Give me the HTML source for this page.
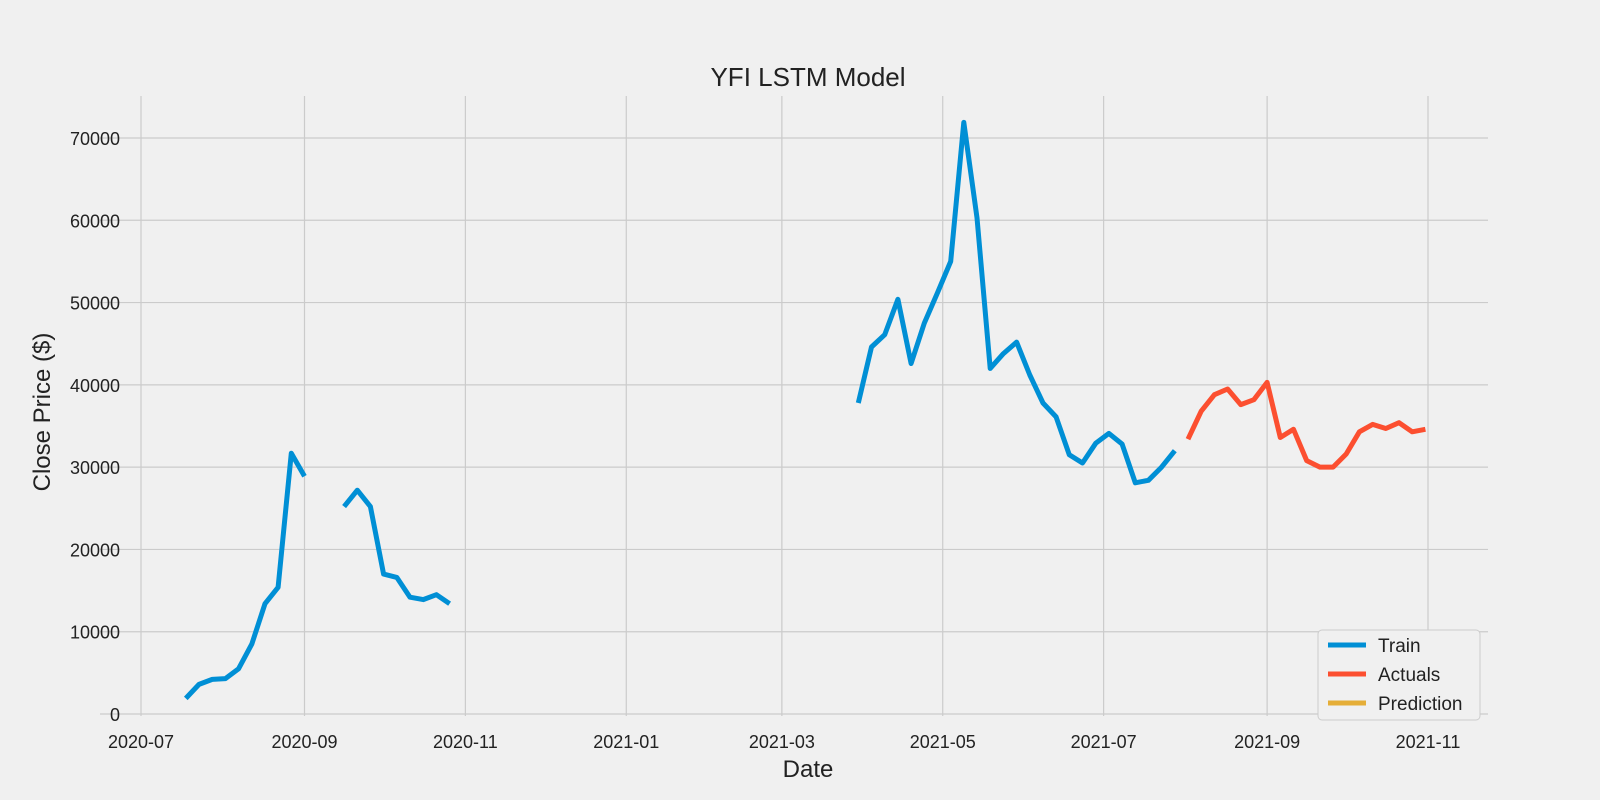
<!DOCTYPE html>
<html><head><meta charset="utf-8"><style>
html,body{margin:0;padding:0;background:#f0f0f0;}
svg{display:block;font-family:"Liberation Sans","DejaVu Sans",sans-serif;}
</style></head><body>
<svg id="chart" width="1600" height="800" viewBox="0 0 1600 800">
<rect width="1600" height="800" fill="#f0f0f0"/>
<g id="grid"></g>
<g id="series"></g>
<g id="ticks"></g>
<text x="808" y="86" font-size="26" text-anchor="middle" fill="#222">YFI LSTM Model</text>
<text x="808" y="777" font-size="24" text-anchor="middle" fill="#222">Date</text>
<text transform="translate(50,412) rotate(-90)" font-size="24" text-anchor="middle" fill="#222">Close Price ($)</text>
<g>
<rect x="1318" y="630" width="162" height="90" rx="4" fill="#f0f0f0" stroke="#cccccc"/>
<line x1="1328" y1="645" x2="1366" y2="645" stroke="#008fd5" stroke-width="5"/>
<text x="1378" y="652" font-size="19" fill="#222">Train</text>
<line x1="1328" y1="674" x2="1366" y2="674" stroke="#fc4f30" stroke-width="5"/>
<text x="1378" y="681" font-size="19" fill="#222">Actuals</text>
<line x1="1328" y1="703" x2="1366" y2="703" stroke="#e5ae38" stroke-width="5"/>
<text x="1378" y="710" font-size="19" fill="#222">Prediction</text>
</g>
</svg>
<script>
const startDate = "2020-07-18";
const stepDays = 5;
const trainValues = [1900,3600,4200,4300,5500,8500,13400,15400,31700,28900,null,null,
25200,27200,25200,17000,16600,14200,13900,14500,13400,
null,null,null,null,null,null,null,null,null,null,null,null,null,null,null,null,null,null,null,null,null,null,null,null,null,null,null,null,null,null,
37800,44600,46100,50400,42600,47500,51200,55000,71900,60300,42000,43800,45200,41200,37800,36100,31500,30500,32900,34100,32800,28100,28400,30000,32000];
const actualValues = [33400,36800,38800,39500,37600,38200,40300,33600,34600,30800,30000,30000,31600,34300,35200,34700,35400,34300,34600];
const actualStartIndex = 76;
const predictionValues = [];
const yTicks = [0,10000,20000,30000,40000,50000,60000,70000];
const xTickLabels = ["2020-07","2020-09","2020-11","2021-01","2021-03","2021-05","2021-07","2021-09","2021-11"];

const NS="http://www.w3.org/2000/svg";
const t0=Date.UTC(2020,6,1), DAY=86400000;
const xScale=d=>141+(d-t0)/DAY*2.6373;
const yScale=v=>714-v*(576/70000);
const s0=new Date(startDate+"T00:00:00Z").getTime();
const dateAt=i=>s0+i*stepDays*DAY;
function mk(tag,attrs,parent){const e=document.createElementNS(NS,tag);for(const k in attrs)e.setAttribute(k,attrs[k]);parent.appendChild(e);return e;}
const grid=document.getElementById('grid'),ticks=document.getElementById('ticks'),series=document.getElementById('series');
yTicks.forEach(v=>{const y=yScale(v);
 const l=mk('line',{x1:100,x2:1488,y1:y,y2:y,stroke:'#cbcbcb','stroke-width':1.2},grid);
 
 
 const t=mk('text',{x:120,y:y+7,'font-size':18,'text-anchor':'end',fill:'#222'},ticks);t.textContent=v;
 
 
});
xTickLabels.forEach(s=>{const [yy,mm]=s.split('-').map(Number);const x=xScale(Date.UTC(yy,mm-1,1));
 const l=mk('line',{x1:x,x2:x,y1:96,y2:716,stroke:'#cbcbcb','stroke-width':1.2},grid);
 
 
 const t=mk('text',{x:x,y:748,'font-size':18,'text-anchor':'middle',fill:'#222'},ticks);t.textContent=s;
 
 
});
function drawLine(vals,off,color,name){let d='',pen=false;
 vals.forEach((v,i)=>{if(v==null){pen=false;return;}const x=xScale(dateAt(i+off)),y=yScale(v);d+=(pen?'L':'M')+x.toFixed(1)+' '+y.toFixed(1);pen=true;});
 if(!d)return;
 const p=mk('path',{d:d,fill:'none',stroke:color,'stroke-width':5,'stroke-linejoin':'round'},series);
 
 
}
drawLine(trainValues,0,'#008fd5','train-line');
drawLine(actualValues,actualStartIndex,'#fc4f30','actuals-line');
drawLine(predictionValues,actualStartIndex,'#e5ae38','prediction-line');
</script>
</body></html>
